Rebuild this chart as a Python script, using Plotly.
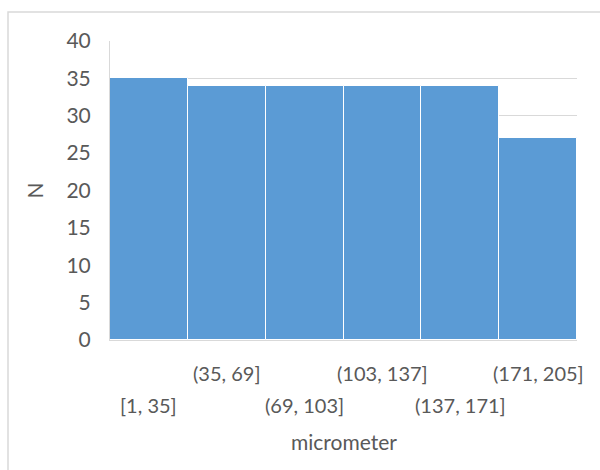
import plotly.graph_objects as go

# Histogram bins (micrometer) and counts
bins = ["[1, 35]", "(35, 69]", "(69, 103]", "(103, 137]", "(137, 171]", "(171, 205]"]
counts = [35, 34, 34, 34, 34, 27]
y_ticks = [0, 5, 10, 15, 20, 25, 30, 35, 40]

FONT = "Lato"
TXT = "#595959"
GRID = "#d9d9d9"

positions = list(range(len(bins)))

fig = go.Figure(
    go.Bar(
        x=positions,
        y=counts,
        width=1.0,
        marker=dict(color="#5B9BD5", line=dict(color="#ffffff", width=1)),
        hoverinfo="skip",
    )
)

annotations = []
# category labels staggered on two rows
for i, label in enumerate(bins):
    annotations.append(dict(
        x=i, xref="x", y=-0.110 if i % 2 else -0.217, yref="paper",
        text=label, showarrow=False, xanchor="center", yanchor="middle",
        font=dict(family=FONT, size=20, color=TXT),
    ))
annotations.append(dict(
    x=0.5, xref="paper", y=-0.341, yref="paper", text="micrometer",
    showarrow=False, xanchor="center", yanchor="middle",
    font=dict(family=FONT, size=21, color=TXT),
))
annotations.append(dict(
    x=-0.1606, xref="paper", y=0.5, yref="paper", text="N", textangle=-90,
    showarrow=False, xanchor="center", yanchor="middle",
    font=dict(family=FONT, size=21, color=TXT),
))

fig.update_layout(
    width=600, height=470,
    margin=dict(l=110, r=23, t=41, b=130),
    paper_bgcolor="white", plot_bgcolor="white",
    showlegend=False,
    bargap=0,
    annotations=annotations,
    shapes=[dict(
        type="rect", xref="paper", yref="paper",
        x0=-0.2184, x1=1.3, y0=-0.6, y1=1.097,
        line=dict(color=GRID, width=1.5), fillcolor="rgba(0,0,0,0)", layer="below",
    )],
    xaxis=dict(
        range=[-0.5, len(bins) - 0.5], showticklabels=False, showgrid=False,
        zeroline=False, showline=True, linecolor=GRID, linewidth=1, ticks="",
        fixedrange=True,
    ),
    yaxis=dict(
        range=[0, 40], tickvals=y_ticks, showgrid=True, gridcolor=GRID, gridwidth=1,
        zeroline=False, showline=True, linecolor=GRID, linewidth=1, ticks="",
        tickfont=dict(family=FONT, size=21, color=TXT), ticklabelstandoff=14,
        fixedrange=True,
    ),
)

fig.write_html("out.html")
